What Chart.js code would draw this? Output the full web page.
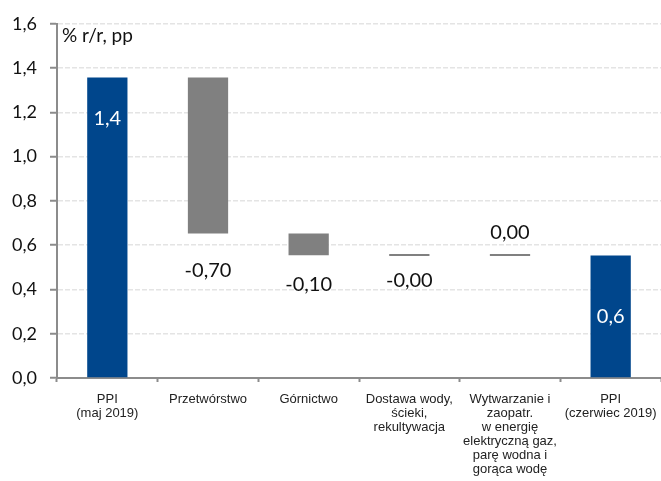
<!DOCTYPE html>
<html>
<head>
<meta charset="utf-8">
<script src="https://cdn.jsdelivr.net/npm/chart.js@4.4.1/dist/chart.umd.min.js"></script>
<style>
    * {
        margin: 0;
        padding: 0;
    }

    body {
        background: #fff;
    }

    #chart {
        display: block;
    }
</style>
</head>
<body>
<canvas id="chart" width="661" height="481"></canvas>
<script>
//  D A T A  //
const categories = [
    ["PPI", "(maj 2019)"],
    ["Przetwórstwo"],
    ["Górnictwo"],
    ["Dostawa wody,", "ścieki,", "rekultywacja"],
    ["Wytwarzanie i", "zaopatr.", "w energię", "elektryczną gaz,", "parę wodna i", "gorąca wodę"],
    ["PPI", "(czerwiec 2019)"]
];

const ppiMay = 1.357;      // PPI maj 2019, % r/r
const ppiJune = 0.553;     // PPI czerwiec 2019, % r/r
const contributions = [-0.704, -0.098, -0.004, 0.004];   // pp, sections 2..5

const yTicks = [0, 0.2, 0.4, 0.6, 0.8, 1.0, 1.2, 1.4, 1.6];


//  W A T E R F A L L   R A N G E S  //
const ranges = [[0, ppiMay]];
let level = ppiMay;
contributions.forEach(c => {
    ranges.push([level, level + c]);
    level += c;
});
ranges.push([0, ppiJune]);

const values = [ppiMay, ...contributions, ppiJune];
const labelTexts = values.map((v, i) => {
    const ends = i === 0 || i === values.length - 1;
    return v.toFixed(ends ? 1 : 2).replace(".", ",");
});

const BLUE = "#00468c";
const GREY = "#808080";
const barColors = values.map((v, i) => (i === 0 || i === values.length - 1) ? BLUE : GREY);

// where each value label sits relative to its bar
const labelPlacement = [
    { at: "top", dy: 41, color: "#fff" },
    { at: "bottom", dy: 37, color: "#111" },
    { at: "bottom", dy: 29, color: "#111" },
    { at: "bottom", dy: 25, color: "#111" },
    { at: "top", dy: -21, color: "#111" },
    { at: "center", dy: 0, color: "#fff" }
];


//  P L U G I N S  //
const barLabels = {
    id: "barLabels",
    afterDatasetsDraw(chart) {
        const ctx = chart.ctx;
        const meta = chart.getDatasetMeta(0);
        ctx.save();
        ctx.font = "20px Lato";
        ctx.textAlign = "center";
        ctx.textBaseline = "middle";
        meta.data.forEach((bar, i) => {
            const top = Math.min(bar.y, bar.base);
            const bottom = Math.max(bar.y, bar.base);
            const p = labelPlacement[i];
            let y = (top + bottom) / 2;
            if (p.at === "top") y = top + p.dy;
            if (p.at === "bottom") y = bottom + p.dy;
            ctx.fillStyle = p.color;
            ctx.fillText(labelTexts[i], bar.x, y);
        });

        // unit caption in the top-left corner of the plot
        ctx.textAlign = "left";
        ctx.textBaseline = "alphabetic";
        ctx.font = "19px Lato";
        ctx.fillStyle = "#111";
        ctx.fillText("% r/r, pp", chart.chartArea.left + 5, chart.chartArea.top + 18);
        ctx.restore();
    }
};


//  C H A R T  //
const ctx = document.getElementById("chart").getContext("2d");
new Chart(ctx, {
    type: "bar",
    data: {
        labels: categories,
        datasets: [{
            data: ranges,
            backgroundColor: barColors,
            borderWidth: 0,
            barPercentage: 0.4,
            categoryPercentage: 1,
            minBarLength: 2
        }]
    },
    options: {
        responsive: false,
        animation: false,
        layout: {
            padding: { top: 22, right: 0, left: 0, bottom: 0 }
        },
        plugins: {
            legend: { display: false },
            tooltip: { enabled: false }
        },
        scales: {
            x: {
                offset: true,
                grid: {
                    offset: true,
                    drawOnChartArea: false,
                    tickLength: 4,
                    tickColor: "#8c8c8c",
                    tickWidth: 2
                },
                border: { color: "#8c8c8c", width: 2 },
                ticks: {
                    autoSkip: false,
                    maxRotation: 0,
                    minRotation: 0,
                    padding: 10,
                    color: "#222",
                    font: { family: "Liberation Sans", size: 13, lineHeight: 1.08 }
                },
                afterFit(scale) {
                    scale.height = 103;
                    scale.paddingLeft = 0;
                    scale.paddingRight = 0;
                }
            },
            y: {
                min: 0,
                max: 1.6,
                afterBuildTicks(scale) {
                    scale.ticks = yTicks.map(v => ({ value: v }));
                },
                grid: {
                    color: "#e4e4e4",
                    lineWidth: 1.5,
                    tickLength: 7,
                    tickColor: "#8c8c8c",
                    tickWidth: 2
                },
                border: { color: "#8c8c8c", width: 2, dash: [5, 2] },
                ticks: {
                    padding: 13,
                    color: "#111",
                    font: { family: "Lato", size: 18 },
                    callback: v => v.toFixed(1).replace(".", ",")
                },
                afterFit(scale) {
                    scale.width = 57;
                }
            }
        }
    },
    plugins: [barLabels]
});
</script>
</body>
</html>
